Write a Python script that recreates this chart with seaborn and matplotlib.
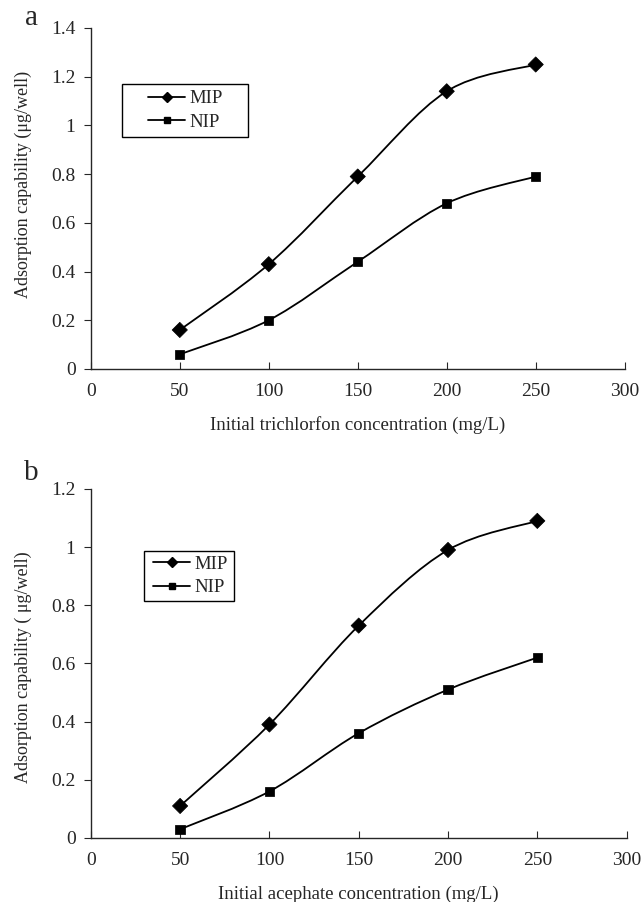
import numpy as np
import matplotlib
matplotlib.use("Agg")
import matplotlib.pyplot as plt
import seaborn as sns
import pandas as pd
from matplotlib.path import Path
from matplotlib.patches import PathPatch, Rectangle
from matplotlib.lines import Line2D
from matplotlib.ticker import FuncFormatter

conc = [50, 100, 150, 200, 250]
mip_a = [0.16, 0.43, 0.79, 1.14, 1.25]
nip_a = [0.06, 0.20, 0.44, 0.68, 0.79]
mip_b = [0.11, 0.39, 0.73, 0.99, 1.09]
nip_b = [0.03, 0.16, 0.36, 0.51, 0.62]

sns.set_style("ticks")
plt.rcParams['font.family'] = ['Liberation Serif', 'DejaVu Serif']


def smooth_path(x, y):
    # excel-like smoothed line: catmull-rom segments as cubic beziers
    p = np.column_stack([x, y]).astype(float)
    n = len(p)
    verts = [p[0]]
    codes = [Path.MOVETO]
    for i in range(n - 1):
        p0 = p[i - 1] if i > 0 else p[i]
        p3 = p[i + 2] if i + 2 < n else p[i + 1]
        c1 = p[i] + (p[i + 1] - p0) / 6
        c2 = p[i + 1] - (p3 - p[i]) / 6
        verts += [c1, c2, p[i + 1]]
        codes += [Path.CURVE4] * 3
    return Path(verts, codes)


def panel(ax, mip, nip, ymax, xlabel, ylabel, letter, box, handle_x, ylab_y, letter_y):
    df = pd.DataFrame({'x': conc * 2, 'y': mip + nip,
                       'kind': ['MIP'] * 5 + ['NIP'] * 5})
    for vals in (mip, nip):
        ax.add_patch(PathPatch(smooth_path(conc, vals), fill=False,
                               edgecolor='black', lw=1.3, zorder=2))
    sns.scatterplot(data=df, x='x', y='y', style='kind', size='kind',
                    markers={'MIP': 'D', 'NIP': 's'},
                    sizes={'MIP': 60, 'NIP': 45}, color='black',
                    edgecolor='black', legend=False, ax=ax, zorder=3)
    ax.set_xlim(0, 300)
    ax.set_ylim(0, ymax)
    ax.set_xticks(range(0, 301, 50))
    ax.set_yticks(np.arange(0, ymax + 0.001, 0.2))
    ax.yaxis.set_major_formatter(FuncFormatter(lambda v, _: f"{round(v, 1):g}"))
    sns.despine(ax=ax)
    ax.tick_params(axis='x', direction='in', length=5, pad=10)
    ax.tick_params(axis='y', direction='out', length=5, pad=6)
    ax.tick_params(labelsize=14)
    ax.set_xlabel(xlabel, fontsize=13.5, labelpad=12)
    ax.set_ylabel(ylabel, fontsize=13)
    ax.yaxis.set_label_coords(-0.11, ylab_y)
    for sp in ax.spines.values():
        sp.set_linewidth(1.0)

    # legend box drawn separately (wide excel-style padding)
    x0, x1, y0, y1 = box
    ax.add_patch(Rectangle((x0, y0), x1 - x0, y1 - y0, transform=ax.transAxes,
                           fill=False, edgecolor='black', lw=1.0, zorder=4))
    handles = [Line2D([], [], color='black', marker='D', markersize=5.5, lw=1.3),
               Line2D([], [], color='black', marker='s', markersize=5, lw=1.3)]
    ax.legend(handles, ['MIP', 'NIP'], loc='center left',
              bbox_to_anchor=(handle_x, (y0 + y1) / 2), frameon=False,
              fontsize=13.5, handlelength=2.0, handletextpad=0.2,
              borderpad=0, borderaxespad=0, labelspacing=0.35)
    ax.text(-0.124, letter_y, letter, transform=ax.transAxes, fontsize=21,
            ha='left', va='center')


fig = plt.figure(figsize=(6.44, 9.02), dpi=100)
ax1 = fig.add_axes([0.141, 0.591, 0.829, 0.378])
ax2 = fig.add_axes([0.141, 0.071, 0.832, 0.387])

panel(ax1, mip_a, nip_a, 1.4, 'Initial trichlorfon concentration (mg/L)',
      'Adsorption capability (μg/well)', 'a',
      (0.058, 0.294, 0.680, 0.836), 0.107, 0.54, 1.029)
panel(ax2, mip_b, nip_b, 1.2, 'Initial acephate concentration (mg/L)',
      'Adsorption capability ( μg/well)', 'b',
      (0.099, 0.267, 0.679, 0.822), 0.116, 0.49, 1.046)

fig.savefig('out.png', dpi=100)
